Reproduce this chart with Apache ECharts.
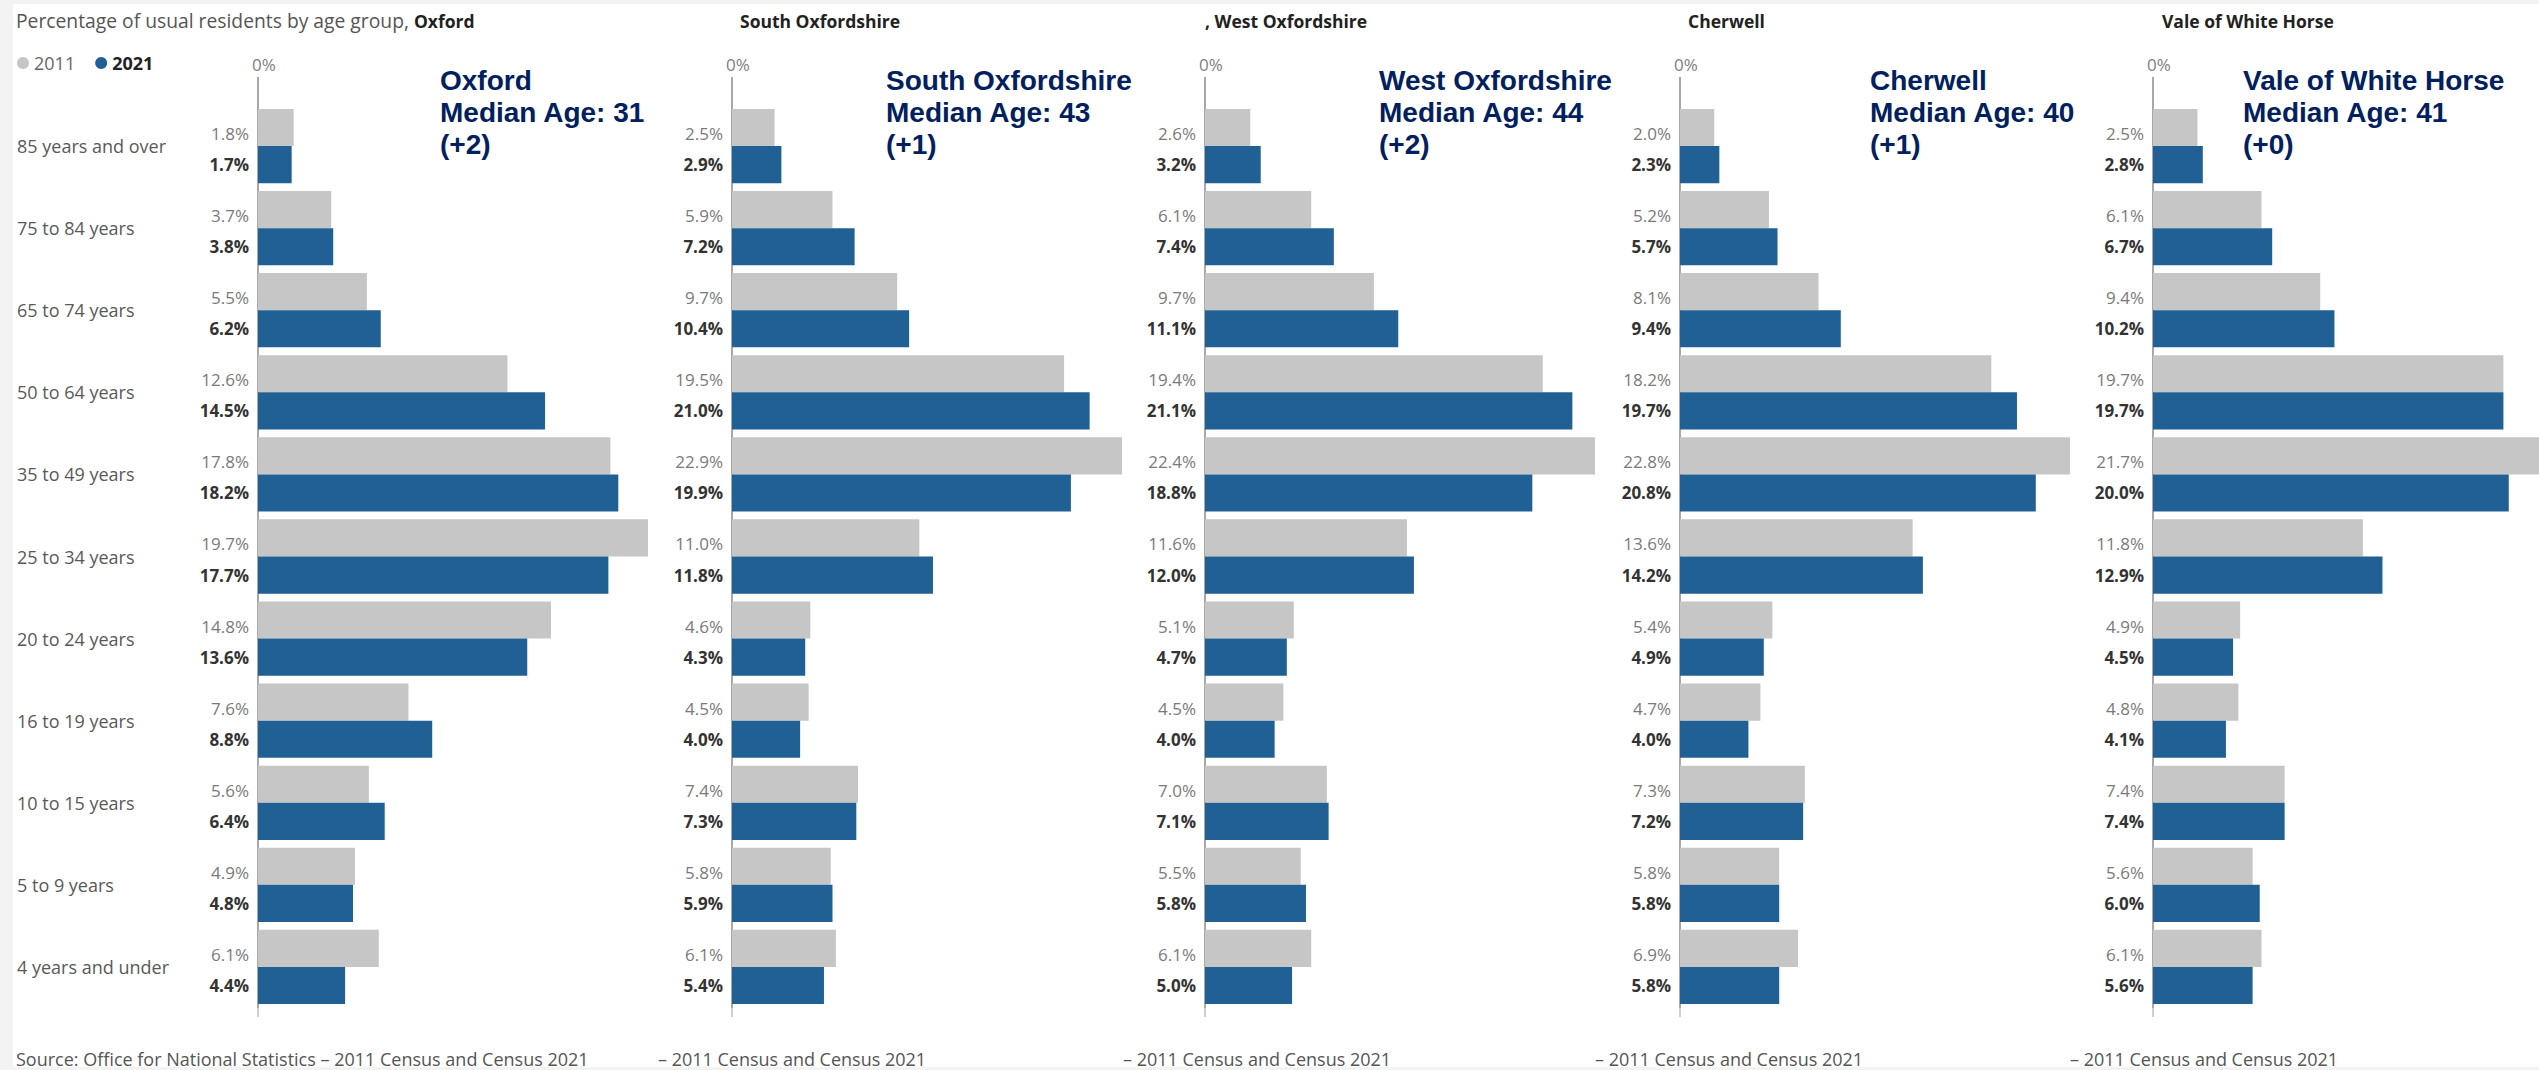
<!DOCTYPE html>
<html><head><meta charset="utf-8">
<script src="https://cdn.jsdelivr.net/npm/echarts@6/dist/echarts.min.js"></script>
<style>html,body{margin:0;padding:0;background:#fff;}#c{width:2539px;height:1070px;}</style>
</head><body><div id="c"></div>
<script>
// ---- data ----
const categories = ['85 years and over','75 to 84 years','65 to 74 years','50 to 64 years','35 to 49 years','25 to 34 years','20 to 24 years','16 to 19 years','10 to 15 years','5 to 9 years','4 years and under'];
const districts = ['Oxford','South Oxfordshire','West Oxfordshire','Cherwell','Vale of White Horse'];
const years = ['2011','2021'];
const oxford2011 = [1.8,3.7,5.5,12.6,17.8,19.7,14.8,7.6,5.6,4.9,6.1];
const oxford2021 = [1.7,3.8,6.2,14.5,18.2,17.7,13.6,8.8,6.4,4.8,4.4];
const southOx2011 = [2.5,5.9,9.7,19.5,22.9,11.0,4.6,4.5,7.4,5.8,6.1];
const southOx2021 = [2.9,7.2,10.4,21.0,19.9,11.8,4.3,4.0,7.3,5.9,5.4];
const westOx2011 = [2.6,6.1,9.7,19.4,22.4,11.6,5.1,4.5,7.0,5.5,6.1];
const westOx2021 = [3.2,7.4,11.1,21.1,18.8,12.0,4.7,4.0,7.1,5.8,5.0];
const cherwell2011 = [2.0,5.2,8.1,18.2,22.8,13.6,5.4,4.7,7.3,5.8,6.9];
const cherwell2021 = [2.3,5.7,9.4,19.7,20.8,14.2,4.9,4.0,7.2,5.8,5.8];
const vale2011 = [2.5,6.1,9.4,19.7,21.7,11.8,4.9,4.8,7.4,5.6,6.1];
const vale2021 = [2.8,6.7,10.2,19.7,20.0,12.9,4.5,4.1,7.4,6.0,5.6];
const medianAge = [31,43,44,40,41];
const medianChange = ['+2','+1','+2','+1','+0'];
const tickValues = [0];
const titlePrefix = 'Percentage of usual residents by age group, ';
const panelTitles = ['Oxford','South Oxfordshire',', West Oxfordshire','Cherwell','Vale of White Horse'];
const sourceMain = 'Source: Office for National Statistics \u2013 2011 Census and Census 2021';
const sourceFrag = '\u2013 2011 Census and Census 2021';

// ---- layout / style ----
const values2011 = [oxford2011, southOx2011, westOx2011, cherwell2011, vale2011];
const values2021 = [oxford2021, southOx2021, westOx2021, cherwell2021, vale2021];
const panelLeft = [258, 732, 1205, 1680, 2153];
const titleLeft = [16, 740, 1205, 1688, 2162];
const annoLeft = [440, 886, 1379, 1870, 2243];
const sourceLeft = [16, 658, 1123, 1595, 2070];
const FONT = '"Open Sans", "Noto Sans", sans-serif';
const GRAY = '#c6c6c6', BLUE = '#206095', NAVY = '#002060';

const grids = [], xAxes = [], yAxes = [], series = [], titles = [], graphics = [];

graphics.push({type:'rect', z:-10, silent:true, shape:{x:0,y:0,width:13,height:1070}, style:{fill:'#f3f3f3'}});
graphics.push({type:'rect', z:-10, silent:true, shape:{x:0,y:0,width:2539,height:4}, style:{fill:'#f3f3f3'}});
graphics.push({type:'rect', z:-10, silent:true, shape:{x:0,y:1067,width:2539,height:3}, style:{fill:'#f3f3f3'}});

districts.forEach((d, i) => {
  grids.push({left: panelLeft[i], top: 105, width: 390, height: 903});
  xAxes.push({
    type:'value', gridIndex:i, position:'top', min:0, max:'dataMax',
    axisLine:{show:false}, splitLine:{show:false},
    axisTick:{show:true, customValues:tickValues, length:28, lineStyle:{color:'#a8a8a8', width:2}},
    axisLabel:{show:true, customValues:tickValues, formatter:v => v + '%', margin:32,
      color:'#808080', fontSize:17, fontFamily:FONT, padding:[0,0,0,12]}
  });
  xAxes.push({
    type:'value', gridIndex:i, position:'bottom', min:0, max:1,
    axisLine:{show:false}, splitLine:{show:false},
    axisTick:{show:true, customValues:tickValues, length:9, lineStyle:{color:'#cfcfcf', width:2}},
    axisLabel:{show:false}
  });
  yAxes.push({
    type:'category', gridIndex:i, data:categories, inverse:true,
    axisLine:{show:true, lineStyle:{color:'#a8a8a8', width:2}},
    axisTick:{show:false},
    axisLabel:{show:i === 0, align:'left', margin:241, color:'#595959', fontSize:18, fontFamily:FONT}
  });
  series.push({
    type:'bar', name:years[0], xAxisIndex:2*i, yAxisIndex:i, data:values2011[i],
    barGap:'0%', barCategoryGap:'9.5%', itemStyle:{color:GRAY}, silent:true,
    label:{show:true, position:'left', distance:9, offset:[0,6], formatter:p => p.value.toFixed(1) + '%',
      color:'#7a7a7a', fontSize:17, fontFamily:FONT}
  });
  series.push({
    type:'bar', name:years[1], xAxisIndex:2*i, yAxisIndex:i, data:values2021[i],
    barGap:'0%', barCategoryGap:'9.5%', itemStyle:{color:BLUE}, silent:true,
    label:{show:true, position:'left', distance:9, formatter:p => p.value.toFixed(1) + '%',
      color:'#333333', fontWeight:'bold', fontSize:17, fontFamily:FONT}
  });
  if (i === 0) {
    titles.push({text:'{n|' + titlePrefix + '}{b|' + panelTitles[i] + '}', left:titleLeft[i], top:11, padding:0,
      textStyle:{fontWeight:'normal', rich:{n:{fontSize:19.3, fontWeight:'normal', color:'#555555', fontFamily:FONT}, b:{fontSize:17.5, fontWeight:'bold', color:'#222222', fontFamily:FONT}}}});
  } else {
    titles.push({text:panelTitles[i], left:titleLeft[i], top:12, padding:0,
      textStyle:{fontSize:17.5, fontWeight:'bold', color:'#222222', fontFamily:FONT}});
  }
  graphics.push({type:'text', left:annoLeft[i], top:64, silent:true,
    style:{text: d + '\nMedian Age: ' + medianAge[i] + '\n(' + medianChange[i] + ')',
      fill:NAVY, fontSize:28, fontWeight:'bold', fontFamily:'"Liberation Sans", Arial, sans-serif', lineHeight:32}});
  graphics.push({type:'text', left:sourceLeft[i], top:1050, silent:true,
    style:{text: i === 0 ? sourceMain : sourceFrag, fill:'#555555', fontSize:18, fontFamily:FONT}});
});

const chart = echarts.init(document.getElementById('c'), null, {renderer:'svg'});
chart.setOption({
  backgroundColor:'#ffffff',
  animation:false,
  title:titles,
  legend:{data:[{name:'2011', textStyle:{color:'#666666'}}, {name:'2021', textStyle:{color:'#222222', fontWeight:'bold'}}],
    left:17, top:54, icon:'circle', itemWidth:12, itemHeight:12, itemGap:20, padding:0, selectedMode:false,
    textStyle:{fontSize:18, fontFamily:FONT}},
  grid:grids, xAxis:xAxes, yAxis:yAxes, series:series, graphic:graphics
});
</script></body></html>
